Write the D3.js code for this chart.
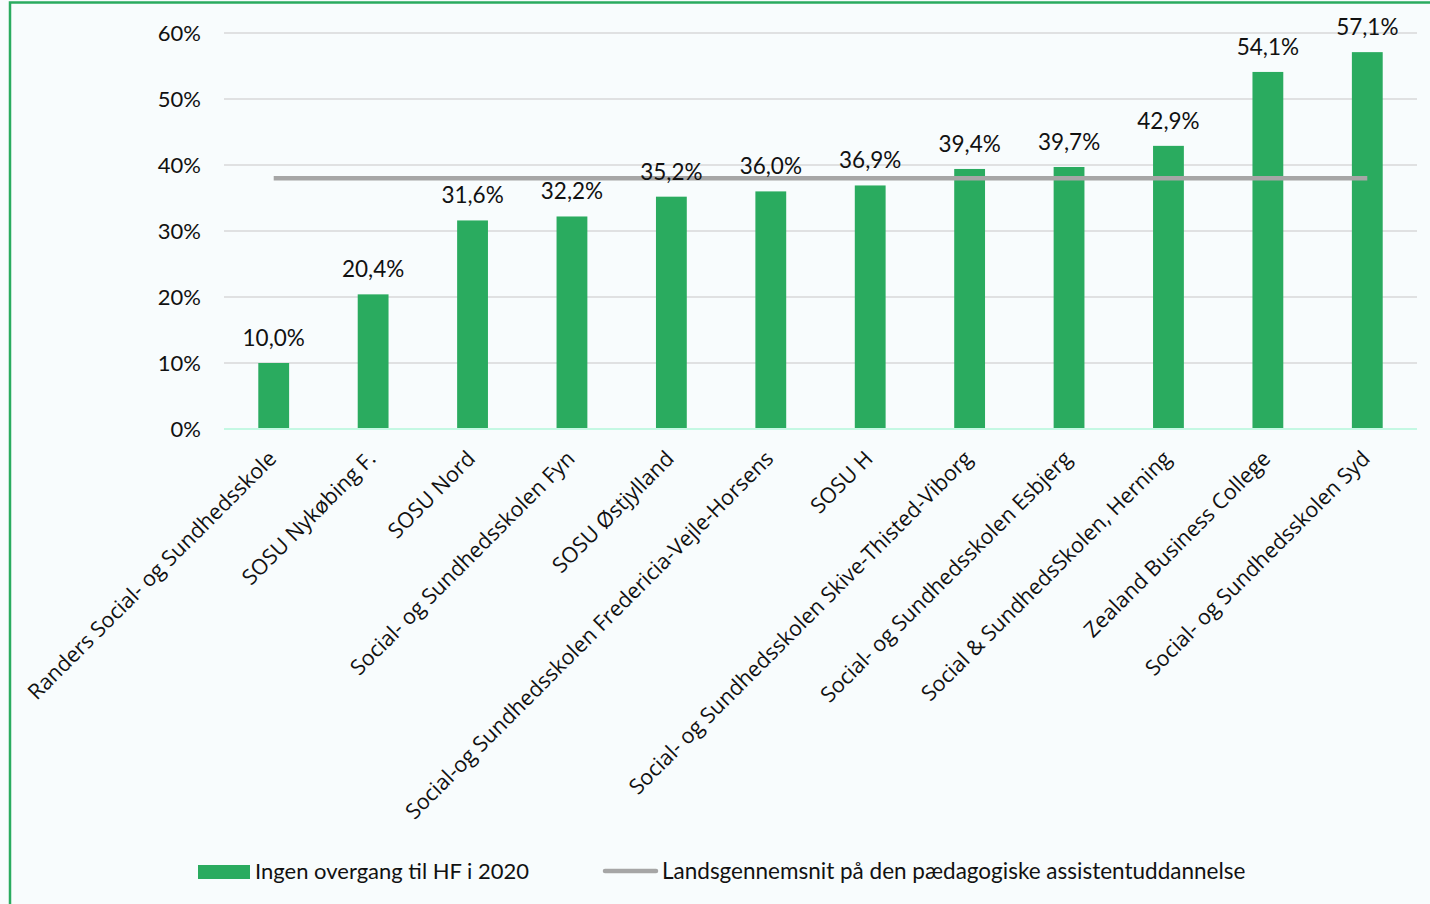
<!DOCTYPE html>
<html>
<head>
<meta charset="utf-8">
<script src="https://cdn.jsdelivr.net/npm/d3@7"></script>
<style>
html,body{margin:0;padding:0;background:#f8fcfd;}
svg{display:block;}
</style>
</head>
<body>
<svg id="chart" width="1430" height="904"></svg>
<script>
const categories = [
  "Randers Social- og Sundhedsskole",
  "SOSU Nykøbing F.",
  "SOSU Nord",
  "Social- og Sundhedsskolen Fyn",
  "SOSU Østjylland",
  "Social-og Sundhedsskolen Fredericia-Vejle-Horsens",
  "SOSU H",
  "Social- og Sundhedsskolen Skive-Thisted-Viborg",
  "Social- og Sundhedsskolen Esbjerg",
  "Social & SundhedsSkolen, Herning",
  "Zealand Business College",
  "Social- og Sundhedsskolen Syd"
];
const values = [10.0, 20.4, 31.6, 32.2, 35.2, 36.0, 36.9, 39.4, 39.7, 42.9, 54.1, 57.1];
const averageValue = [38.0];
const yTicks = [0, 10, 20, 30, 40, 50, 60];
const legendLabels = ["Ingen overgang til HF i 2020", "Landsgennemsnit på den pædagogiske assistentuddannelse"];

(function () {
const svg = d3.select("#chart");
const green = "#2aab5f";
const grey = "#a6a6a6";
const labelFont = "Lato, 'Source Sans Pro', 'Noto Sans', sans-serif";
const catFont = "'Open Sans', 'Noto Sans', sans-serif";

// frame
svg.append("rect").attr("x", 10).attr("y", 2.5).attr("width", 1430).attr("height", 920)
  .attr("fill", "#f8fcfd").attr("stroke", "#2aab5f").attr("stroke-width", 2.5);

const pLeft = 224, pRight = 1417, pTop = 33, pBottom = 429;
const x = d3.scaleBand().domain(categories).range([pLeft, pRight]).paddingInner(0.69).paddingOuter(0.345);
const y = d3.scaleLinear().domain([0, 60]).range([pBottom, pTop]);

// gridlines
svg.append("g").selectAll("line").data(yTicks.filter(d => d > 0)).join("line")
  .attr("x1", pLeft).attr("x2", pRight)
  .attr("y1", d => y(d)).attr("y2", d => y(d))
  .attr("stroke", "#d9d9d9").attr("stroke-width", 1.5);

// y axis labels
const yAxis = d3.axisLeft(y).tickValues(yTicks).tickFormat(d => d + "%").tickSize(0).tickPadding(0);
const ya = svg.append("g").attr("transform", `translate(${pLeft - 23},0)`).call(yAxis);
ya.select(".domain").remove();
ya.selectAll("text").attr("font-family", labelFont).attr("font-size", 22).attr("fill", "#111");

// bars
svg.append("g").selectAll("rect").data(values).join("rect")
  .attr("x", (d, i) => x(categories[i]))
  .attr("width", x.bandwidth())
  .attr("y", d => y(d))
  .attr("height", d => y(0) - y(d))
  .attr("fill", green);

// baseline
svg.append("line").attr("x1", pLeft).attr("x2", pRight).attr("y1", y(0)).attr("y2", y(0))
  .attr("stroke", "#c4f8e3").attr("stroke-width", 2);

// average line
const half = x.bandwidth() / 2;
svg.append("line")
  .attr("x1", x(categories[0]) + half)
  .attr("x2", x(categories[categories.length - 1]) + half)
  .attr("y1", y(averageValue[0])).attr("y2", y(averageValue[0]))
  .attr("stroke", grey).attr("stroke-width", 4.5);

// value labels
const fmt = v => v.toFixed(1).replace(".", ",") + "%";
svg.append("g").selectAll("text").data(values).join("text")
  .attr("x", (d, i) => x(categories[i]) + half)
  .attr("y", d => y(d) - 17)
  .attr("text-anchor", "middle")
  .attr("font-family", labelFont).attr("font-size", 22.5).attr("fill", "#111")
  .text(d => fmt(d));

// x axis category labels
const xAxis = d3.axisBottom(x).tickSize(0).tickPadding(0);
const xa = svg.append("g").attr("transform", `translate(0,${pBottom})`).call(xAxis);
xa.select(".domain").remove();
xa.selectAll("text")
  .attr("font-family", catFont).attr("font-size", 21.5).attr("fill", "#111")
  .attr("text-anchor", "end")
  .attr("dy", null).attr("y", 0)
  .attr("transform", "translate(4,31) rotate(-45)");

// legend
const lg = svg.append("g");
lg.append("rect").attr("x", 198).attr("y", 865).attr("width", 52).attr("height", 14).attr("fill", green);
lg.append("text").attr("x", 255).attr("y", 879).attr("font-family", labelFont).attr("font-size", 22)
  .attr("fill", "#111").text(legendLabels[0]);
lg.append("line").attr("x1", 605).attr("x2", 656).attr("y1", 871).attr("y2", 871)
  .attr("stroke", grey).attr("stroke-width", 4.5).attr("stroke-linecap", "round");
lg.append("text").attr("x", 662).attr("y", 879).attr("font-family", labelFont).attr("font-size", 22.5)
  .attr("fill", "#111").text(legendLabels[1]);
})();
</script>
</body>
</html>
